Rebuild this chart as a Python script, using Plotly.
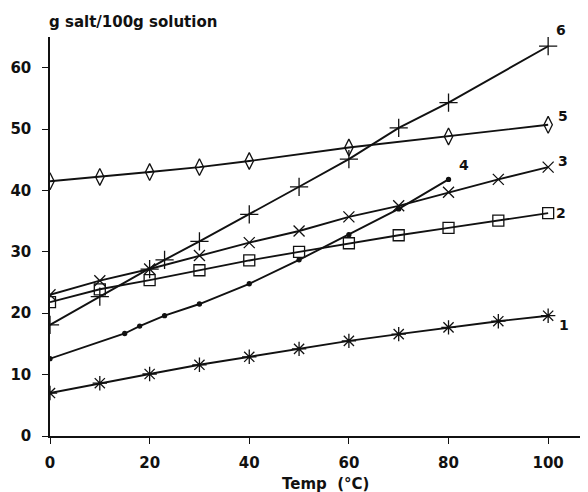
import plotly.graph_objects as go

# Data
x1 = [0, 10, 20, 30, 40, 50, 60, 70, 80, 90, 100]
y1 = [7.0, 8.6, 10.1, 11.6, 12.9, 14.2, 15.5, 16.6, 17.7, 18.7, 19.6]

x2 = [0, 10, 20, 30, 40, 50, 60, 70, 80, 90, 100]
y2 = [21.8, 23.9, 25.4, 27.0, 28.6, 30.0, 31.4, 32.7, 33.9, 35.1, 36.3]

x3 = [0, 10, 20, 30, 40, 50, 60, 70, 80, 90, 100]
y3 = [23.0, 25.3, 27.2, 29.4, 31.5, 33.4, 35.7, 37.5, 39.7, 41.8, 43.8]

x4 = [0, 15, 18, 23, 30, 40, 50, 60, 70, 80]
y4 = [12.6, 16.7, 17.9, 19.6, 21.5, 24.8, 28.7, 32.8, 37.0, 41.8]

x5 = [0, 10, 20, 30, 40, 60, 80, 100]
y5 = [41.5, 42.2, 43.0, 43.8, 44.8, 47.0, 48.8, 50.7]

x6 = [0, 10, 20, 23, 30, 40, 50, 60, 70, 80, 100]
y6 = [18.1, 22.7, 27.2, 28.7, 31.7, 36.1, 40.6, 45.1, 50.2, 54.3, 63.5]

series_labels = ["1", "2", "3", "4", "5", "6"]
x_ticks = [0, 20, 40, 60, 80, 100]
y_ticks = [0, 10, 20, 30, 40, 50, 60]

FONT = "DejaVu Sans"
BLACK = "#111111"

series = [
    (x1, y1, "asterisk-open", 12),
    (x2, y2, "square-open", 11),
    (x3, y3, "x-thin-open", 11),
    (x4, y4, "circle", 4),
    (x5, y5, "diamond-tall-open", 12),
    (x6, y6, "cross-thin-open", 13),
]

fig = go.Figure()
for (xs, ys, sym, sz), name in zip(series, series_labels):
    fig.add_trace(go.Scatter(
        x=xs, y=ys, mode="lines+markers", name=name,
        line=dict(color=BLACK, width=1.9),
        marker=dict(symbol=sym, size=sz, color=BLACK,
                    line=dict(color=BLACK, width=1.3)),
        showlegend=False,
    ))

# end labels
shifts = [(16, -9), (13, 0), (15, 6), (15, 14), (15, 9), (13, 16)]
for (xs, ys, _, _), name, (dx, dy) in zip(series, series_labels, shifts):
    fig.add_annotation(x=xs[-1], y=ys[-1], text="<b>%s</b>" % name,
                       showarrow=False, xshift=dx, yshift=dy,
                       xanchor="center", yanchor="middle",
                       font=dict(family=FONT, size=14, color=BLACK))

fig.add_annotation(xref="paper", yref="paper", x=-0.006, y=1.0, yshift=15,
                   text="<b>g salt/100g solution</b>", showarrow=False,
                   xanchor="left", yanchor="middle",
                   font=dict(family=FONT, size=15, color=BLACK))
fig.add_annotation(xref="paper", yref="paper", x=0.513, y=0, yshift=-48,
                   text="<b>Temp  (°C)</b>", showarrow=False,
                   xanchor="center", yanchor="middle",
                   font=dict(family=FONT, size=15, color=BLACK))

# page body has an 8px margin: shrink the figure so the plot lands where the reference has it
fig.update_layout(
    width=580, height=484,
    margin=dict(l=42, r=0, t=29, b=56, autoexpand=False),
    paper_bgcolor="white", plot_bgcolor="white",
    font=dict(family=FONT, color=BLACK),
)
fig.update_xaxes(
    range=[0, 108], tickvals=x_ticks, ticktext=["<b>%d</b>" % v for v in x_ticks],
    showgrid=False, zeroline=False, showline=True, linecolor=BLACK, linewidth=1.5,
    ticks="outside", ticklen=6, tickwidth=1.2, tickcolor=BLACK,
    tickfont=dict(family=FONT, size=15, color=BLACK), ticklabelstandoff=6,
)
fig.update_yaxes(
    range=[0, 65], tickvals=y_ticks, ticktext=["<b>%d</b>" % v for v in y_ticks],
    showgrid=False, zeroline=False, showline=True, linecolor=BLACK, linewidth=1.5,
    ticks="outside", ticklen=6, tickwidth=1.2, tickcolor=BLACK,
    tickfont=dict(family=FONT, size=15, color=BLACK), ticklabelstandoff=8,
)

fig.write_html("out.html")
